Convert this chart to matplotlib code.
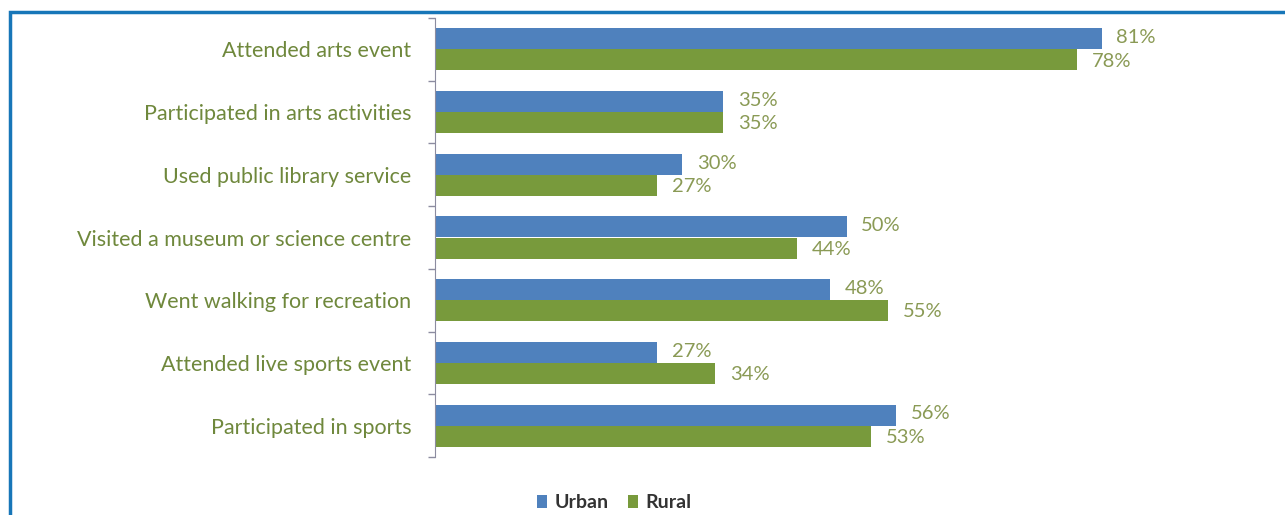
import matplotlib.pyplot as plt
import numpy as np
from matplotlib.patches import Rectangle

categories = ['Attended arts event', 'Participated in arts activities',
              'Used public library service', 'Visited a museum or science centre',
              'Went walking for recreation', 'Attended live sports event',
              'Participated in sports']
urban = [81, 35, 30, 50, 48, 27, 56]
rural = [78, 35, 27, 44, 55, 34, 53]

blue = '#4f81bd'
green = '#789a3c'
label_col = '#6f883c'
value_col = '#8a9a55'

plt.rcParams['font.family'] = ['Lato', 'DejaVu Sans']

fig = plt.figure(figsize=(12.85, 5.15), dpi=100)
ax = fig.add_axes([435 / 1285, 1 - 457 / 515, 823 / 1285, (457 - 18) / 515])

y = np.arange(len(categories))
h = 0.335
ax.barh(y - h / 2, urban, height=h, color=blue, label='Urban')
ax.barh(y + h / 2, rural, height=h, color=green, label='Rural')

for yi, u, r in zip(y, urban, rural):
    ax.text(u + 1.8, yi - h / 2 - 0.02, f'{u}%', va='center', ha='left',
            fontsize=14.5, color=value_col)
    ax.text(r + 1.8, yi + h / 2 + 0.02, f'{r}%', va='center', ha='left',
            fontsize=14.5, color=value_col)

ax.set_xlim(0, 100)
ax.set_ylim(len(categories) - 0.5, -0.5)
ax.set_yticks(y)
ax.set_yticklabels(categories, fontsize=15.5, color=label_col)
ax.tick_params(axis='y', which='major', length=0, pad=17)
ax.set_yticks(np.arange(len(categories) + 1) - 0.5, minor=True)
ax.tick_params(axis='y', which='minor', length=5, color='#8c8ca0', width=1)
ax.set_xticks([])
for s in ['top', 'right', 'bottom']:
    ax.spines[s].set_visible(False)
ax.spines['left'].set_color('#8c8ca0')

leg = fig.legend(loc='center', bbox_to_anchor=(614 / 1285, 1 - 503 / 515),
                 ncol=2, frameon=False, fontsize=14, handlelength=0.55,
                 handleheight=0.6, handletextpad=0.35, columnspacing=1.0)
for t in leg.get_texts():
    t.set_color('#333333')
    t.set_fontweight('bold')

# blue frame around the panel
fig.patches.append(Rectangle((10 / 1285, -0.1), 1.2, 1 - 12 / 515 + 0.1,
                             transform=fig.transFigure, fill=False,
                             edgecolor='#1776b8', linewidth=2.5))

fig.savefig('out.png', dpi=100, facecolor='white')
